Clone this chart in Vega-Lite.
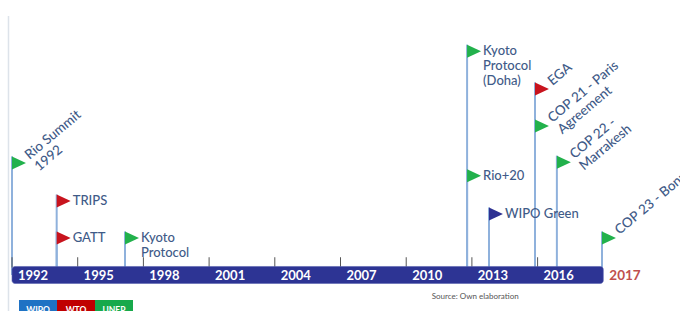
{
  "$schema": "https://vega.github.io/schema/vega-lite/v6.json",
  "width": 680,
  "height": 311,
  "autosize": {"type": "none"},
  "padding": 0,
  "background": "white",
  "config": {"view": {"stroke": null}, "font": "Lato"},
  "datasets": {
    "events": [
      {"label": "Rio Summit\n1992", "org": "UNEP", "t": 1992.0, "level": 3.03},
      {"label": "TRIPS", "org": "WTO", "t": 1994.04, "level": 2.0},
      {"label": "GATT", "org": "WTO", "t": 1994.04, "level": 1.0},
      {"label": "Kyoto\nProtocol", "org": "UNEP", "t": 1997.16, "level": 1.0},
      {"label": "Kyoto\nProtocol\n(Doha)", "org": "UNEP", "t": 2012.78, "level": 6.05},
      {"label": "Rio+20", "org": "UNEP", "t": 2012.78, "level": 2.68},
      {"label": "WIPO Green", "org": "WIPO", "t": 2013.78, "level": 1.65},
      {"label": "EGA", "org": "WTO", "t": 2015.88, "level": 5.03},
      {"label": "COP 21 - Paris\nAgreement", "org": "UNEP", "t": 2015.88, "level": 4.03},
      {"label": "COP 22 -\nMarrakesh", "org": "UNEP", "t": 2016.88, "level": 3.05},
      {"label": "COP 23 - Bonn", "org": "UNEP", "t": 2018.94, "level": 1.0}
    ],
    "years": [
      {"year": 1992, "label": "1992"},
      {"year": 1995, "label": "1995"},
      {"year": 1998, "label": "1998"},
      {"year": 2001, "label": "2001"},
      {"year": 2004, "label": "2004"},
      {"year": 2007, "label": "2007"},
      {"year": 2010, "label": "2010"},
      {"year": 2013, "label": "2013"},
      {"year": 2016, "label": "2016"}
    ],
    "band": [{"start": 1992, "end": 2019, "last": "2017"}],
    "orgs": [{"org": "WIPO"}, {"org": "WTO"}, {"org": "UNEP"}]
  },
  "resolve": {"scale": {"x": "independent", "color": "independent"}},
  "layer": [
    {
      "layer": [
        {
          "data": {"name": "band"},
          "mark": {"type": "rule", "color": "#dde3ea", "strokeWidth": 1.5},
          "encoding": {
            "x": {"datum": 1991.84, "type": "quantitative", "scale": {"domain": [1991.452, 2022.502], "nice": false, "zero": false}, "axis": null},
            "y": {"datum": 7.0, "type": "quantitative", "scale": {"domain": [-0.973, 7.432], "nice": false, "zero": false}, "axis": null},
            "y2": {"datum": -1.0}
          }
        },
        {
          "data": {"name": "events"},
          "mark": {"type": "rule", "color": "#8fb1dc", "strokeWidth": 2, "yOffset": -6.5},
          "encoding": {
            "x": {"field": "t", "type": "quantitative", "scale": {"domain": [1991.452, 2022.502], "nice": false, "zero": false}, "axis": null},
            "y": {"field": "level", "type": "quantitative", "scale": {"domain": [-0.973, 7.432], "nice": false, "zero": false}, "axis": null},
            "y2": {"datum": 0}
          }
        },
        {
          "data": {"name": "years"},
          "mark": {"type": "rule", "color": "#555555", "strokeWidth": 1},
          "encoding": {
            "x": {"field": "year", "type": "quantitative", "scale": {"domain": [1991.452, 2022.502], "nice": false, "zero": false}, "axis": null},
            "y": {"datum": 0.48, "type": "quantitative"},
            "y2": {"datum": 0.2}
          }
        },
        {
          "data": {"name": "band"},
          "mark": {"type": "rect", "color": "#2d3494", "cornerRadius": 3, "stroke": "#5a63b0", "strokeWidth": 0.6},
          "encoding": {
            "x": {"field": "start", "type": "quantitative", "scale": {"domain": [1991.452, 2022.502], "nice": false, "zero": false}, "axis": null},
            "x2": {"field": "end"},
            "y": {"datum": 0.23, "type": "quantitative"},
            "y2": {"datum": -0.23}
          }
        },
        {
          "data": {"name": "years"},
          "mark": {"type": "text", "color": "white", "fontWeight": "bold", "fontSize": 13, "align": "center", "baseline": "middle", "xOffset": 21, "yOffset": 1},
          "encoding": {
            "x": {"field": "year", "type": "quantitative", "scale": {"domain": [1991.452, 2022.502], "nice": false, "zero": false}, "axis": null},
            "y": {"datum": 0, "type": "quantitative"},
            "text": {"field": "label"}
          }
        },
        {
          "data": {"name": "band"},
          "mark": {"type": "text", "color": "#c0504d", "fontWeight": "bold", "fontSize": 13.5, "align": "left", "baseline": "middle", "xOffset": 6, "yOffset": 1},
          "encoding": {
            "x": {"field": "end", "type": "quantitative", "scale": {"domain": [1991.452, 2022.502], "nice": false, "zero": false}, "axis": null},
            "y": {"datum": 0, "type": "quantitative"},
            "text": {"field": "last"}
          }
        },
        {
          "data": {"name": "events"},
          "mark": {"type": "point", "shape": "M0,-1L2.15,0L0,1Z", "filled": true, "opacity": 1, "size": 169, "strokeWidth": 0},
          "encoding": {
            "x": {"field": "t", "type": "quantitative", "scale": {"domain": [1991.452, 2022.502], "nice": false, "zero": false}, "axis": null},
            "y": {"field": "level", "type": "quantitative"},
            "color": {"field": "org", "type": "nominal", "scale": {"domain": ["WIPO", "WTO", "UNEP"], "range": ["#2e3192", "#c8141e", "#22b14c"]}, "legend": null}
          }
        },
        {
          "data": {"name": "events"},
          "transform": [{"filter": {"field": "label", "oneOf": ["TRIPS", "GATT", "Kyoto\nProtocol", "Kyoto\nProtocol\n(Doha)", "Rio+20", "WIPO Green"]}}],
          "mark": {"type": "text", "color": "#3f5b88", "fontSize": 13, "fontWeight": 500, "align": "left", "baseline": "top", "lineBreak": "\n", "lineHeight": 15, "xOffset": 16, "yOffset": -6},
          "encoding": {
            "x": {"field": "t", "type": "quantitative", "scale": {"domain": [1991.452, 2022.502], "nice": false, "zero": false}, "axis": null},
            "y": {"field": "level", "type": "quantitative"},
            "text": {"field": "label"}
          }
        },
        {
          "data": {"name": "events"},
          "transform": [{"filter": {"field": "label", "oneOf": ["Rio Summit\n1992", "EGA", "COP 21 - Paris\nAgreement", "COP 22 -\nMarrakesh", "COP 23 - Bonn"]}}],
          "mark": {"type": "text", "color": "#3f5b88", "fontSize": 13.5, "fontWeight": 500, "align": "left", "baseline": "middle", "angle": 320, "lineBreak": "\n", "lineHeight": 15, "xOffset": 15, "yOffset": -6},
          "encoding": {
            "x": {"field": "t", "type": "quantitative", "scale": {"domain": [1991.452, 2022.502], "nice": false, "zero": false}, "axis": null},
            "y": {"field": "level", "type": "quantitative"},
            "text": {"field": "label"}
          }
        },
        {
          "data": {"values": [{"note": "Source: Own elaboration"}]},
          "mark": {"type": "text", "color": "#555555", "fontSize": 8, "align": "center", "baseline": "middle"},
          "encoding": {
            "x": {"datum": 2013.15, "type": "quantitative", "scale": {"domain": [1991.452, 2022.502], "nice": false, "zero": false}, "axis": null},
            "y": {"datum": -0.6, "type": "quantitative"},
            "text": {"field": "note"}
          }
        }
      ]
    },
    {
      "data": {"name": "orgs"},
      "layer": [
        {
          "mark": {"type": "rect"},
          "encoding": {
            "x": {"field": "org", "type": "nominal", "sort": null, "scale": {"domain": ["WIPO", "WTO", "UNEP"], "range": [19, 133], "paddingInner": 0, "paddingOuter": 0}, "axis": null},
            "y": {"datum": -0.676, "type": "quantitative"},
            "y2": {"datum": -1.1},
            "color": {"field": "org", "type": "nominal", "scale": {"domain": ["WIPO", "WTO", "UNEP"], "range": ["#1f72c4", "#c00000", "#17a94b"]}, "legend": null}
          }
        },
        {
          "mark": {"type": "text", "color": "white", "fontSize": 8.5, "fontWeight": "bold", "align": "center", "baseline": "middle"},
          "encoding": {
            "x": {"field": "org", "type": "nominal", "sort": null, "scale": {"domain": ["WIPO", "WTO", "UNEP"], "range": [19, 133], "paddingInner": 0, "paddingOuter": 0}, "axis": null},
            "y": {"datum": -0.95, "type": "quantitative"},
            "text": {"field": "org"}
          }
        }
      ]
    }
  ]
}
